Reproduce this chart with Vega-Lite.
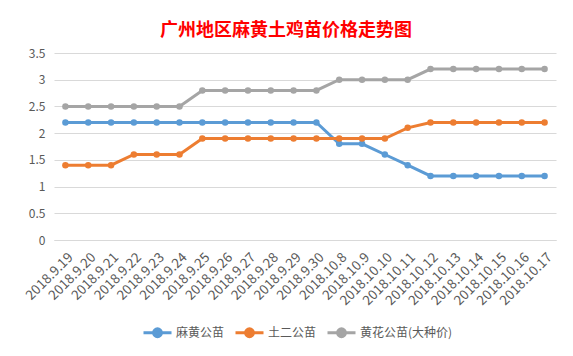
{
  "$schema": "https://vega.github.io/schema/vega-lite/v6.json",
  "autosize": "none",
  "width": 502,
  "height": 187,
  "padding": {"left": 54, "top": 53, "right": 17, "bottom": 116},
  "background": "white",
  "title": {
    "text": "广州地区麻黄土鸡苗价格走势图",
    "color": "#FF0000",
    "font": "Noto Sans CJK SC",
    "fontSize": 18,
    "fontWeight": "bold",
    "anchor": "middle",
    "dx": -19,
    "offset": 7
  },
  "config": {
    "view": {"stroke": null},
    "font": "Noto Sans CJK SC"
  },
  "data": {
    "values": [
      {"date": "2018.9.19", "series": "麻黄公苗", "price": 2.2},
      {"date": "2018.9.20", "series": "麻黄公苗", "price": 2.2},
      {"date": "2018.9.21", "series": "麻黄公苗", "price": 2.2},
      {"date": "2018.9.22", "series": "麻黄公苗", "price": 2.2},
      {"date": "2018.9.23", "series": "麻黄公苗", "price": 2.2},
      {"date": "2018.9.24", "series": "麻黄公苗", "price": 2.2},
      {"date": "2018.9.25", "series": "麻黄公苗", "price": 2.2},
      {"date": "2018.9.26", "series": "麻黄公苗", "price": 2.2},
      {"date": "2018.9.27", "series": "麻黄公苗", "price": 2.2},
      {"date": "2018.9.28", "series": "麻黄公苗", "price": 2.2},
      {"date": "2018.9.29", "series": "麻黄公苗", "price": 2.2},
      {"date": "2018.9.30", "series": "麻黄公苗", "price": 2.2},
      {"date": "2018.10.8", "series": "麻黄公苗", "price": 1.8},
      {"date": "2018.10.9", "series": "麻黄公苗", "price": 1.8},
      {"date": "2018.10.10", "series": "麻黄公苗", "price": 1.6},
      {"date": "2018.10.11", "series": "麻黄公苗", "price": 1.4},
      {"date": "2018.10.12", "series": "麻黄公苗", "price": 1.2},
      {"date": "2018.10.13", "series": "麻黄公苗", "price": 1.2},
      {"date": "2018.10.14", "series": "麻黄公苗", "price": 1.2},
      {"date": "2018.10.15", "series": "麻黄公苗", "price": 1.2},
      {"date": "2018.10.16", "series": "麻黄公苗", "price": 1.2},
      {"date": "2018.10.17", "series": "麻黄公苗", "price": 1.2},
      {"date": "2018.9.19", "series": "土二公苗", "price": 1.4},
      {"date": "2018.9.20", "series": "土二公苗", "price": 1.4},
      {"date": "2018.9.21", "series": "土二公苗", "price": 1.4},
      {"date": "2018.9.22", "series": "土二公苗", "price": 1.6},
      {"date": "2018.9.23", "series": "土二公苗", "price": 1.6},
      {"date": "2018.9.24", "series": "土二公苗", "price": 1.6},
      {"date": "2018.9.25", "series": "土二公苗", "price": 1.9},
      {"date": "2018.9.26", "series": "土二公苗", "price": 1.9},
      {"date": "2018.9.27", "series": "土二公苗", "price": 1.9},
      {"date": "2018.9.28", "series": "土二公苗", "price": 1.9},
      {"date": "2018.9.29", "series": "土二公苗", "price": 1.9},
      {"date": "2018.9.30", "series": "土二公苗", "price": 1.9},
      {"date": "2018.10.8", "series": "土二公苗", "price": 1.9},
      {"date": "2018.10.9", "series": "土二公苗", "price": 1.9},
      {"date": "2018.10.10", "series": "土二公苗", "price": 1.9},
      {"date": "2018.10.11", "series": "土二公苗", "price": 2.1},
      {"date": "2018.10.12", "series": "土二公苗", "price": 2.2},
      {"date": "2018.10.13", "series": "土二公苗", "price": 2.2},
      {"date": "2018.10.14", "series": "土二公苗", "price": 2.2},
      {"date": "2018.10.15", "series": "土二公苗", "price": 2.2},
      {"date": "2018.10.16", "series": "土二公苗", "price": 2.2},
      {"date": "2018.10.17", "series": "土二公苗", "price": 2.2},
      {"date": "2018.9.19", "series": "黄花公苗(大种价)", "price": 2.5},
      {"date": "2018.9.20", "series": "黄花公苗(大种价)", "price": 2.5},
      {"date": "2018.9.21", "series": "黄花公苗(大种价)", "price": 2.5},
      {"date": "2018.9.22", "series": "黄花公苗(大种价)", "price": 2.5},
      {"date": "2018.9.23", "series": "黄花公苗(大种价)", "price": 2.5},
      {"date": "2018.9.24", "series": "黄花公苗(大种价)", "price": 2.5},
      {"date": "2018.9.25", "series": "黄花公苗(大种价)", "price": 2.8},
      {"date": "2018.9.26", "series": "黄花公苗(大种价)", "price": 2.8},
      {"date": "2018.9.27", "series": "黄花公苗(大种价)", "price": 2.8},
      {"date": "2018.9.28", "series": "黄花公苗(大种价)", "price": 2.8},
      {"date": "2018.9.29", "series": "黄花公苗(大种价)", "price": 2.8},
      {"date": "2018.9.30", "series": "黄花公苗(大种价)", "price": 2.8},
      {"date": "2018.10.8", "series": "黄花公苗(大种价)", "price": 3.0},
      {"date": "2018.10.9", "series": "黄花公苗(大种价)", "price": 3.0},
      {"date": "2018.10.10", "series": "黄花公苗(大种价)", "price": 3.0},
      {"date": "2018.10.11", "series": "黄花公苗(大种价)", "price": 3.0},
      {"date": "2018.10.12", "series": "黄花公苗(大种价)", "price": 3.2},
      {"date": "2018.10.13", "series": "黄花公苗(大种价)", "price": 3.2},
      {"date": "2018.10.14", "series": "黄花公苗(大种价)", "price": 3.2},
      {"date": "2018.10.15", "series": "黄花公苗(大种价)", "price": 3.2},
      {"date": "2018.10.16", "series": "黄花公苗(大种价)", "price": 3.2},
      {"date": "2018.10.17", "series": "黄花公苗(大种价)", "price": 3.2}
    ]
  },
  "mark": {"type": "line", "strokeWidth": 3, "point": {"filled": true, "size": 42, "opacity": 1}},
  "encoding": {
    "x": {
      "field": "date",
      "type": "ordinal",
      "sort": null,
      "scale": {"type": "point", "padding": 0.5},
      "axis": {
        "title": null,
        "labelAngle": -45,
        "labelFontSize": 13.5,
        "labelColor": "#595959",
        "labelPadding": 10,
        "domainColor": "#d9d9d9",
        "domainWidth": 1,
        "ticks": false,
        "grid": false
      }
    },
    "y": {
      "field": "price",
      "type": "quantitative",
      "scale": {"domain": [0, 3.5]},
      "axis": {
        "title": null,
        "values": [0, 0.5, 1, 1.5, 2, 2.5, 3, 3.5],
        "format": "~g",
        "labelFontSize": 12,
        "labelColor": "#595959",
        "labelPadding": 9,
        "domain": false,
        "ticks": false,
        "gridColor": "#d9d9d9",
        "gridWidth": 1
      }
    },
    "color": {
      "field": "series",
      "type": "nominal",
      "scale": {
        "domain": ["麻黄公苗", "土二公苗", "黄花公苗(大种价)"],
        "range": ["#5B9BD5", "#ED7D31", "#A5A5A5"]
      },
      "legend": {
        "title": null,
        "orient": "none",
        "direction": "horizontal",
        "legendX": 88,
        "legendY": 264,
        "labelFontSize": 12,
        "labelColor": "#595959",
        "labelOffset": 3,
        "columnPadding": 4,
        "symbolType": "M-1,0H1M-0.28,0A0.28,0.28 0 1,0 0.28,0A0.28,0.28 0 1,0 -0.28,0",
        "symbolSize": 784,
        "symbolStrokeWidth": 3,
        "encode": {
          "symbols": {"update": {"fill": {"scale": "color", "field": "value"}, "opacity": {"value": 1}}}
        }
      }
    }
  }
}
